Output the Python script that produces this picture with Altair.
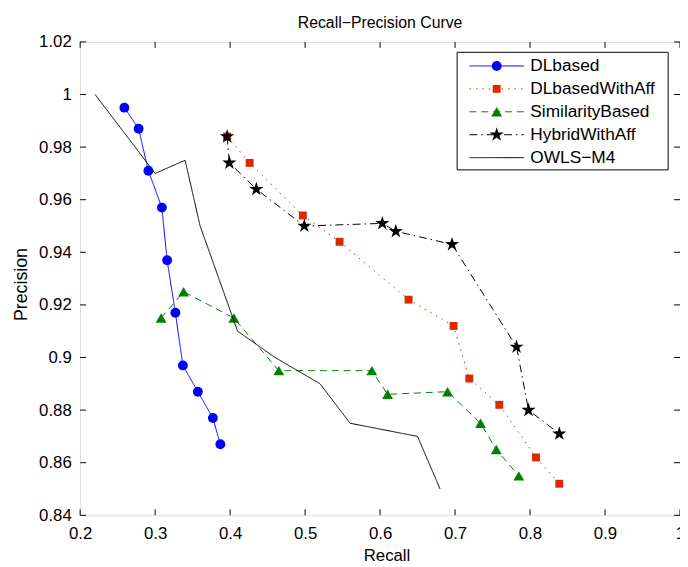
import altair as alt
import pandas as pd

# ---------------- data ----------------
series_names = ["DLbased", "DLbasedWithAff", "SimilarityBased", "HybridWithAff", "OWLS\u2212M4"]

dl_recall = [0.259, 0.278, 0.291, 0.309, 0.316, 0.327, 0.337, 0.357, 0.377, 0.387]
dl_precision = [0.995, 0.987, 0.971, 0.957, 0.937, 0.917, 0.897, 0.887, 0.877, 0.867]

dlaff_recall = [0.396, 0.426, 0.497, 0.546, 0.638, 0.698, 0.719, 0.759, 0.808, 0.839]
dlaff_precision = [0.984, 0.974, 0.954, 0.944, 0.922, 0.912, 0.892, 0.882, 0.862, 0.852]

sim_recall = [0.308, 0.338, 0.405, 0.465, 0.589, 0.610, 0.690, 0.734, 0.755, 0.785]
sim_precision = [0.915, 0.925, 0.915, 0.895, 0.895, 0.886, 0.887, 0.875, 0.865, 0.855]

hyb_recall = [0.396, 0.399, 0.435, 0.499, 0.603, 0.621, 0.696, 0.782, 0.798, 0.839]
hyb_precision = [0.984, 0.974, 0.964, 0.950, 0.951, 0.948, 0.943, 0.904, 0.880, 0.871]

owls_recall = [0.22, 0.30, 0.34, 0.36, 0.41, 0.46, 0.52, 0.56, 0.65, 0.68]
owls_precision = [1.0, 0.97, 0.975, 0.95, 0.91, 0.90, 0.89, 0.875, 0.87, 0.85]

x_ticks = [0.2, 0.3, 0.4, 0.5, 0.6, 0.7, 0.8, 0.9, 1.0]
y_ticks = [0.84, 0.86, 0.88, 0.9, 0.92, 0.94, 0.96, 0.98, 1.0, 1.02]

title_text = "Recall\u2212Precision Curve"
x_title = "Recall"
y_title = "Precision"

# ---------------- styles ----------------
W, H = 607, 479
FONT = "Liberation Sans"
STAR = ("M0,-1L0.2245,-0.309L0.9511,-0.309L0.3633,0.118L0.5878,0.809L0,0.382"
        "L-0.5878,0.809L-0.3633,0.118L-0.9511,-0.309L-0.2245,-0.309Z")

styles = {
    "DLbased": dict(color="#0000ff", dash=[1, 0], shape="circle", size=100),
    "DLbasedWithAff": dict(color="#dc2a00", dash=[1.5, 5], shape="square", size=64),
    "SimilarityBased": dict(color="#008000", dash=[7, 5], shape="triangle-up", size=121),
    "HybridWithAff": dict(color="#000000", dash=[8, 4, 1.5, 4], shape=STAR, size=230),
    "OWLS\u2212M4": dict(color="#000000", dash=[1, 0], shape=None, size=0),
}

series_data = {
    "DLbased": (dl_recall, dl_precision),
    "DLbasedWithAff": (dlaff_recall, dlaff_precision),
    "SimilarityBased": (sim_recall, sim_precision),
    "HybridWithAff": (hyb_recall, hyb_precision),
    "OWLS\u2212M4": (owls_recall, owls_precision),
}

xs = alt.Scale(domain=[0.2, 1.0], nice=False, zero=False)
ys = alt.Scale(domain=[0.84, 1.02], nice=False, zero=False)

xa = alt.Axis(values=x_ticks, format="~g", grid=False, ticks=False, tickSize=0, domain=False,
              labelFont=FONT, labelFontSize=17, labelColor="black", labelPadding=23,
              labelBaseline="alphabetic", labelFlush=False, labelOverlap=False,
              title=x_title, titleFont=FONT, titleFontSize=17, titleFontWeight="normal",
              titleColor="black", titleX=310, titleY=46, titleAlign="center",
              titleBaseline="alphabetic", titleAnchor="middle")
ya = alt.Axis(values=y_ticks, format="~g", grid=False, ticks=False, tickSize=0, domain=False,
              labelFont=FONT, labelFontSize=17, labelColor="black", labelPadding=9,
              labelBaseline="middle", labelFlush=False, labelOverlap=False,
              title=y_title, titleFont=FONT, titleFontSize=18, titleFontWeight="normal",
              titleColor="black", titleX=-54, titleY=245, titleAlign="center",
              titleBaseline="alphabetic", titleAngle=270, titleAnchor="middle")

layers = []

# inward tick marks on all four sides
xt = pd.DataFrame({"r": x_ticks})
yt = pd.DataFrame({"p": y_ticks})
layers.append(alt.Chart(xt).mark_rule(color="black", strokeWidth=1).encode(
    x=alt.X("r:Q", scale=xs, axis=xa), y=alt.value(0), y2=alt.value(6)))
layers.append(alt.Chart(xt).mark_rule(color="black", strokeWidth=1).encode(
    x=alt.X("r:Q", scale=xs, axis=xa), y=alt.value(H), y2=alt.value(H - 6)))
layers.append(alt.Chart(yt).mark_rule(color="black", strokeWidth=1).encode(
    y=alt.Y("p:Q", scale=ys, axis=ya), x=alt.value(0), x2=alt.value(6)))
layers.append(alt.Chart(yt).mark_rule(color="black", strokeWidth=1).encode(
    y=alt.Y("p:Q", scale=ys, axis=ya), x=alt.value(W), x2=alt.value(W - 6)))

# series
for name in series_names:
    rx, py = series_data[name]
    st = styles[name]
    df = pd.DataFrame({"r": rx, "p": py, "i": list(range(len(rx)))})
    layers.append(alt.Chart(df).mark_line(color=st["color"], strokeWidth=1,
                                          strokeDash=st["dash"]).encode(
        x=alt.X("r:Q", scale=xs, axis=xa), y=alt.Y("p:Q", scale=ys, axis=ya),
        order="i:Q"))
    if st["shape"]:
        layers.append(alt.Chart(df).mark_point(shape=st["shape"], filled=True, opacity=1,
                                               color=st["color"], size=st["size"],
                                               strokeWidth=0.5).encode(
            x=alt.X("r:Q", scale=xs, axis=xa), y=alt.Y("p:Q", scale=ys, axis=ya)))

# legend (drawn manually to get line + marker samples)
leg = pd.DataFrame({"name": series_names, "k": list(range(len(series_names)))})
layers.append(alt.Chart(pd.DataFrame({"a": [0]})).mark_rect(
    fill="white", stroke="black", strokeWidth=1).encode(
    x=alt.value(381.5), x2=alt.value(595), y=alt.value(10.5), y2=alt.value(129.5)))
for name in series_names:
    st = styles[name]
    sub = alt.Chart(leg).transform_filter(alt.datum.name == name).transform_calculate(
        ly="24.3 + datum.k * 23.2")
    layers.append(sub.mark_rule(color=st["color"], strokeWidth=1, strokeDash=st["dash"]).encode(
        x=alt.value(394), x2=alt.value(449), y=alt.Y("ly:Q", scale=None)))
    if st["shape"]:
        layers.append(sub.mark_point(shape=st["shape"], filled=True, opacity=1,
                                     color=st["color"], size=st["size"], strokeWidth=0.5).encode(
            x=alt.value(421.5), y=alt.Y("ly:Q", scale=None)))
layers.append(alt.Chart(leg).transform_calculate(ly="24.3 + datum.k * 23.2").mark_text(
    align="left", baseline="middle", font=FONT, fontSize=17.5, color="black").encode(
    x=alt.value(455.5), y=alt.Y("ly:Q", scale=None), text="name:N"))

# chart title as text
layers.append(alt.Chart(pd.DataFrame({"t": [title_text]})).mark_text(
    align="center", baseline="alphabetic", font=FONT, fontSize=16, color="black").encode(
    x=alt.value(W / 2), y=alt.value(-14), text="t:N"))

chart = alt.layer(*layers).properties(
    width=W, height=H,
    autosize=alt.AutoSizeParams(type="none"),
    padding={"left": 73, "top": 31, "right": 0, "bottom": 49},
).configure_view(stroke="black", strokeWidth=1).configure(background="white")

chart.save("out.html", embed_options={"renderer": "svg", "actions": False})
